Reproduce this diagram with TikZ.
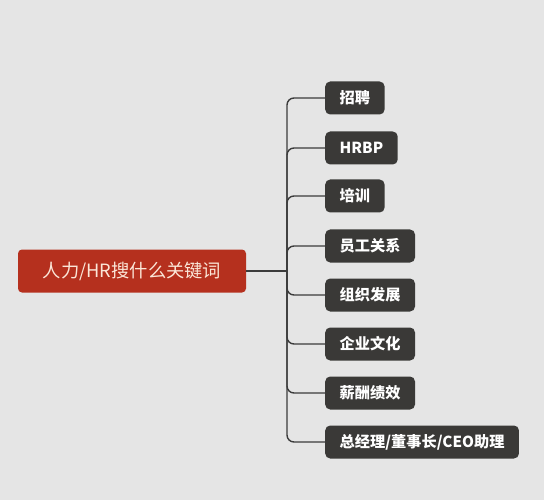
\documentclass[tikz,border=0pt]{standalone}
\usepackage{fontspec}
\setmainfont{Noto Sans CJK SC}
\usepackage{tikz}
\usetikzlibrary{positioning}
\usetikzlibrary{calc}
\definecolor{bgGray}{HTML}{E5E5E5}
\definecolor{rootRed}{HTML}{B5301E}
\definecolor{rootText}{HTML}{FBE6D8}
\definecolor{leafGray}{HTML}{3A3937}
\definecolor{lineGray}{HTML}{3C3C3C}

\begin{document}
\begin{tikzpicture}[x=1pt, y=-1pt,
	rootbox/.style={fill=rootRed, text=rootText, rounded corners=4pt, minimum height=43pt, minimum width=228pt, font=\fontsize{18.3}{21}\selectfont},
	leafbox/.style={fill=leafGray, text=white, rounded corners=5pt, minimum height=33pt, inner xsep=14.5pt, anchor=west, font=\fontsize{15.2}{18}\bfseries\selectfont},
	branch/.style={draw=lineGray, line width=1.4pt, rounded corners=7pt}]
	
	\fill[bgGray] (0,0) rectangle (544,500);
	\useasboundingbox (0,0) rectangle (544,500);
	
	\node[rootbox] (root) at (132, 271) {人力/HR搜什么关键词};
	\coordinate (hub) at (287, 271);
	
	\node[leafbox] (n1) at (325, 98) {招聘};
	\node[leafbox] (n2) at (325, 148) {HRBP};
	\node[leafbox] (n3) at (325, 196) {培训};
	\node[leafbox] (n4) at (325, 246) {员工关系};
	\node[leafbox] (n5) at (325, 295) {组织发展};
	\node[leafbox] (n6) at (325, 344) {企业文化};
	\node[leafbox] (n7) at (325, 393) {薪酬绩效};
	\node[leafbox] (n8) at (325, 442) {总经理/董事长/CEO助理};
	
	% root to hub
	\draw[branch] (root.east) -- (hub);
	% hub to leaves
	\draw[branch] (hub) |- (n1.west);
	\draw[branch] (hub) |- (n2.west);
	\draw[branch] (hub) |- (n3.west);
	\draw[branch] (hub) |- (n4.west);
	\draw[branch] (hub) |- (n5.west);
	\draw[branch] (hub) |- (n6.west);
	\draw[branch] (hub) |- (n7.west);
	\draw[branch] (hub) |- (n8.west);
\end{tikzpicture}
\end{document}
